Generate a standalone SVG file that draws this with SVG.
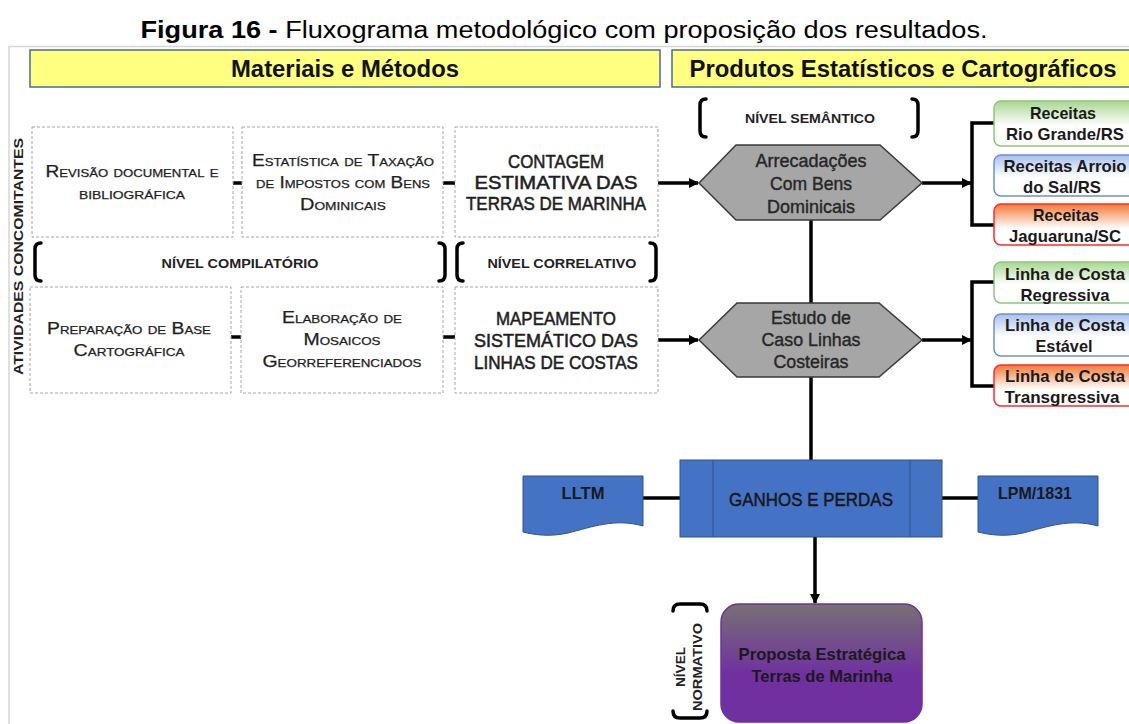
<svg xmlns="http://www.w3.org/2000/svg" width="1129" height="724" viewBox="0 0 1129 724">
<style>
  text { font-family: "Liberation Sans", Arial, sans-serif; text-anchor: middle; fill: #1a1a1a; }
  .title { font-size: 23px; fill: #000; }
  .hdr { font-size: 23px; font-weight: bold; fill: #111; }
  .sc { font-size: 16px; font-variant: small-caps; fill: #1e1e1e; stroke: #1e1e1e; stroke-width: 0.25; }
  .caps { font-size: 19px; fill: #1e1e1e; stroke: #1e1e1e; stroke-width: 0.55; }
  .lvl { font-size: 13.5px; font-weight: bold; fill: #222; }
  .hex { font-size: 18.5px; fill: #262626; stroke: #262626; stroke-width: 0.4; }
  .rb { font-size: 17px; font-weight: bold; fill: #1a1a1a; }
  .dash { fill: #fff; stroke: #a6a6a6; stroke-width: 1; stroke-dasharray: 3 2; }
  .link { stroke: #000; stroke-width: 3.5; fill: none; }
  .brk { stroke: #000; stroke-width: 3.5; fill: none; stroke-linecap: round; stroke-linejoin: round; }
  .hexs { fill: #a6a6a6; stroke: #3a3a3a; stroke-width: 1.5; }
  .yel { fill: #ffff80; stroke: #4a6a9c; stroke-width: 1.5; }
  .blue { fill: #4472c4; stroke: #2f528f; stroke-width: 1; }
</style>
<defs>
  <marker id="ah" markerWidth="10" markerHeight="10" refX="9" refY="5" orient="auto" markerUnits="userSpaceOnUse">
    <path d="M0,0 L10,5 L0,10 Z" fill="#000"/>
  </marker>
  <linearGradient id="gG" x1="0" y1="0" x2="0" y2="1">
    <stop offset="0" stop-color="#a9d790"/><stop offset="0.55" stop-color="#ffffff"/><stop offset="1" stop-color="#ffffff"/>
  </linearGradient>
  <linearGradient id="gB" x1="0" y1="0" x2="0" y2="1">
    <stop offset="0" stop-color="#a9c0ec"/><stop offset="0.55" stop-color="#ffffff"/><stop offset="1" stop-color="#ffffff"/>
  </linearGradient>
  <linearGradient id="gR" x1="0" y1="0" x2="0" y2="1">
    <stop offset="0" stop-color="#f07a36"/><stop offset="0.6" stop-color="#ffffff"/><stop offset="1" stop-color="#ffffff"/>
  </linearGradient>
  <linearGradient id="gP" x1="0" y1="0" x2="0" y2="1">
    <stop offset="0" stop-color="#777173"/><stop offset="0.6" stop-color="#7030a0"/><stop offset="1" stop-color="#7030a0"/>
  </linearGradient>
</defs>

<rect width="1129" height="724" fill="#fff"/>
<text class="title" x="564" y="38" textLength="847" lengthAdjust="spacingAndGlyphs"><tspan font-weight="bold">Figura 16 - </tspan>Fluxograma metodológico com proposição dos resultados.</text>
<path d="M9,724 V46.5 H1129" fill="none" stroke="#d6d6d6" stroke-width="1.5"/>

<g id="header-materiais">
  <rect class="yel" x="30" y="50" width="630" height="37"/>
  <text class="hdr" x="345" y="77" textLength="228" lengthAdjust="spacingAndGlyphs">Materiais e Métodos</text>
</g>
<g id="header-produtos">
  <rect class="yel" x="672" y="50" width="470" height="37"/>
  <text class="hdr" x="903" y="77" textLength="427" lengthAdjust="spacingAndGlyphs">Produtos Estatísticos e Cartográficos</text>
</g>

<g id="label-atividades">
  <text class="lvl" transform="translate(23,256.5) rotate(-90)" x="0" y="0" textLength="237" lengthAdjust="spacingAndGlyphs">ATIVIDADES CONCOMITANTES</text>
</g>

<g id="connectors">
  <line class="link" x1="233" y1="183" x2="242" y2="183"/>
  <line class="link" x1="443" y1="183" x2="455" y2="183"/>
  <line class="link" x1="231" y1="337" x2="241" y2="337"/>
  <line class="link" x1="443" y1="337" x2="455" y2="337"/>
  <line class="link" x1="658" y1="183" x2="698" y2="183" marker-end="url(#ah)"/>
  <line class="link" x1="658" y1="340" x2="698" y2="340" marker-end="url(#ah)"/>
  <line class="link" x1="922" y1="183" x2="971" y2="183" marker-end="url(#ah)"/>
  <line class="link" x1="922" y1="340" x2="971" y2="340" marker-end="url(#ah)"/>
  <path class="link" d="M994,123 H972 V225 H994"/>
  <path class="link" d="M994,282 H972 V386 H994"/>
  <line class="link" x1="811" y1="220" x2="811" y2="303"/>
  <line class="link" x1="811" y1="377" x2="811" y2="460"/>
  <line class="link" x1="643" y1="498" x2="680" y2="498"/>
  <line class="link" x1="942" y1="498" x2="978" y2="498"/>
  <line class="link" x1="815" y1="537" x2="815" y2="603" marker-end="url(#ah)"/>
</g>

<g id="box-revisao">
  <rect class="dash" x="32" y="127" width="201" height="110"/>
  <text class="sc" x="132" y="177" textLength="173" lengthAdjust="spacingAndGlyphs">Revisão documental e</text>
  <text class="sc" x="132" y="199" textLength="106" lengthAdjust="spacingAndGlyphs">bibliográfica</text>
</g>
<g id="box-estatistica">
  <rect class="dash" x="242" y="127" width="201" height="110"/>
  <text class="sc" x="343" y="166" textLength="182" lengthAdjust="spacingAndGlyphs">Estatística de Taxação</text>
  <text class="sc" x="343" y="188" textLength="174" lengthAdjust="spacingAndGlyphs">de Impostos com Bens</text>
  <text class="sc" x="343" y="210" textLength="86" lengthAdjust="spacingAndGlyphs">Dominicais</text>
</g>
<g id="box-contagem">
  <rect class="dash" x="455" y="127" width="203" height="110"/>
  <text class="caps" x="556" y="168" textLength="96" lengthAdjust="spacingAndGlyphs">CONTAGEM</text>
  <text class="caps" x="556" y="189" textLength="163" lengthAdjust="spacingAndGlyphs">ESTIMATIVA DAS</text>
  <text class="caps" x="556" y="210" textLength="180" lengthAdjust="spacingAndGlyphs">TERRAS DE MARINHA</text>
</g>

<g id="nivel-compilatorio">
  <path class="brk" d="M41,243 Q35,243 35,249 V275 Q35,281 41,281"/>
  <path class="brk" d="M439,243 Q445,243 445,249 V275 Q445,281 439,281"/>
  <text class="lvl" x="240" y="268" textLength="157" lengthAdjust="spacingAndGlyphs">NÍVEL COMPILATÓRIO</text>
</g>
<g id="nivel-correlativo">
  <path class="brk" d="M463,243 Q457,243 457,249 V275 Q457,281 463,281"/>
  <path class="brk" d="M650,243 Q656,243 656,249 V275 Q656,281 650,281"/>
  <text class="lvl" x="562" y="268" textLength="149" lengthAdjust="spacingAndGlyphs">NÍVEL CORRELATIVO</text>
</g>
<g id="nivel-semantico">
  <path class="brk" d="M706,99 Q700,99 700,105 V131 Q700,137 706,137"/>
  <path class="brk" d="M912,99 Q918,99 918,105 V131 Q918,137 912,137"/>
  <text class="lvl" x="810" y="123" textLength="130" lengthAdjust="spacingAndGlyphs">NÍVEL SEMÂNTICO</text>
</g>

<g id="box-preparacao">
  <rect class="dash" x="30" y="287" width="201" height="106"/>
  <text class="sc" x="129" y="334" textLength="164" lengthAdjust="spacingAndGlyphs">Preparação de Base</text>
  <text class="sc" x="129" y="356" textLength="111" lengthAdjust="spacingAndGlyphs">Cartográfica</text>
</g>
<g id="box-elaboracao">
  <rect class="dash" x="241" y="287" width="202" height="106"/>
  <text class="sc" x="342" y="323" textLength="120" lengthAdjust="spacingAndGlyphs">Elaboração de</text>
  <text class="sc" x="342" y="345" textLength="77" lengthAdjust="spacingAndGlyphs">Mosaicos</text>
  <text class="sc" x="342" y="367" textLength="159" lengthAdjust="spacingAndGlyphs">Georreferenciados</text>
</g>
<g id="box-mapeamento">
  <rect class="dash" x="455" y="287" width="203" height="106"/>
  <text class="caps" x="556" y="325" textLength="120" lengthAdjust="spacingAndGlyphs">MAPEAMENTO</text>
  <text class="caps" x="556" y="347" textLength="164" lengthAdjust="spacingAndGlyphs">SISTEMÁTICO DAS</text>
  <text class="caps" x="556" y="369" textLength="164" lengthAdjust="spacingAndGlyphs">LINHAS DE COSTAS</text>
</g>

<g id="hex-arrecadacoes">
  <polygon class="hexs" points="699,183 736,145 880,145 922,183 880,220 736,220"/>
  <text class="hex" x="811" y="167" textLength="111" lengthAdjust="spacingAndGlyphs">Arrecadações</text>
  <text class="hex" x="811" y="190" textLength="82" lengthAdjust="spacingAndGlyphs">Com Bens</text>
  <text class="hex" x="811" y="213" textLength="88" lengthAdjust="spacingAndGlyphs">Dominicais</text>
</g>
<g id="hex-estudo">
  <polygon class="hexs" points="699,340 737,303 879,303 922,340 879,377 737,377"/>
  <text class="hex" x="811" y="324" textLength="80" lengthAdjust="spacingAndGlyphs">Estudo de</text>
  <text class="hex" x="811" y="346" textLength="99" lengthAdjust="spacingAndGlyphs">Caso Linhas</text>
  <text class="hex" x="811" y="368" textLength="75" lengthAdjust="spacingAndGlyphs">Costeiras</text>
</g>

<g id="box-rio-grande">
  <rect x="994" y="101" width="150" height="45" rx="7" fill="url(#gG)" stroke="#8cc87a" stroke-width="1.5"/>
  <text class="rb" x="1063" y="119" textLength="66" lengthAdjust="spacingAndGlyphs">Receitas</text>
  <text class="rb" x="1065" y="140" textLength="118" lengthAdjust="spacingAndGlyphs">Rio Grande/RS</text>
</g>
<g id="box-arroio">
  <rect x="994" y="155" width="150" height="41" rx="7" fill="url(#gB)" stroke="#6d8fd6" stroke-width="1.5"/>
  <text class="rb" x="1065" y="172" textLength="123" lengthAdjust="spacingAndGlyphs">Receitas Arroio</text>
  <text class="rb" x="1062" y="193" textLength="78" lengthAdjust="spacingAndGlyphs">do Sal/RS</text>
</g>
<g id="box-jaguaruna">
  <rect x="994" y="204" width="150" height="41" rx="7" fill="url(#gR)" stroke="#ff2a2a" stroke-width="1.5"/>
  <text class="rb" x="1066" y="221" textLength="66" lengthAdjust="spacingAndGlyphs">Receitas</text>
  <text class="rb" x="1065" y="242" textLength="112" lengthAdjust="spacingAndGlyphs">Jaguaruna/SC</text>
</g>
<g id="box-regressiva">
  <rect x="994" y="262" width="150" height="41" rx="7" fill="url(#gG)" stroke="#8cc87a" stroke-width="1.5"/>
  <text class="rb" x="1065" y="280" textLength="120" lengthAdjust="spacingAndGlyphs">Linha de Costa</text>
  <text class="rb" x="1065" y="301" textLength="89" lengthAdjust="spacingAndGlyphs">Regressiva</text>
</g>
<g id="box-estavel">
  <rect x="994" y="314" width="150" height="42" rx="7" fill="url(#gB)" stroke="#6d8fd6" stroke-width="1.5"/>
  <text class="rb" x="1065" y="331" textLength="120" lengthAdjust="spacingAndGlyphs">Linha de Costa</text>
  <text class="rb" x="1064" y="352" textLength="57" lengthAdjust="spacingAndGlyphs">Estável</text>
</g>
<g id="box-transgressiva">
  <rect x="994" y="365" width="150" height="41" rx="7" fill="url(#gR)" stroke="#ff2a2a" stroke-width="1.5"/>
  <text class="rb" x="1065" y="382" textLength="120" lengthAdjust="spacingAndGlyphs">Linha de Costa</text>
  <text class="rb" x="1062" y="403" textLength="115" lengthAdjust="spacingAndGlyphs">Transgressiva</text>
</g>

<g id="doc-lltm">
  <path class="blue" d="M523,476 H643 V526 C615,518 592,527 568,533 C550,537 535,535 523,532 Z"/>
  <text class="rb" x="583" y="499" textLength="43" lengthAdjust="spacingAndGlyphs">LLTM</text>
</g>
<g id="box-ganhos">
  <rect class="blue" x="680" y="460" width="262" height="77"/>
  <line x1="713" y1="460" x2="713" y2="537" stroke="#2f528f" stroke-width="1"/>
  <line x1="910" y1="460" x2="910" y2="537" stroke="#2f528f" stroke-width="1"/>
  <text x="811" y="506" font-size="19" fill="#111" stroke="#111" stroke-width="0.45" textLength="164" lengthAdjust="spacingAndGlyphs">GANHOS E PERDAS</text>
</g>
<g id="doc-lpm">
  <path class="blue" d="M978,476 H1098 V526 C1070,518 1047,527 1023,533 C1005,537 990,535 978,532 Z"/>
  <text class="rb" x="1035" y="499" textLength="74" lengthAdjust="spacingAndGlyphs">LPM/1831</text>
</g>

<g id="nivel-normativo">
  <path class="brk" d="M673,611 Q673,604 680,604 H700 Q707,604 707,611"/>
  <path class="brk" d="M673,711 Q673,718 680,718 H700 Q707,718 707,711"/>
  <text class="lvl" transform="translate(685,667) rotate(-90)" x="0" y="0" textLength="40" lengthAdjust="spacingAndGlyphs">NÍVEL</text>
  <text class="lvl" transform="translate(702,667) rotate(-90)" x="0" y="0" textLength="88" lengthAdjust="spacingAndGlyphs">NORMATIVO</text>
</g>

<g id="box-proposta">
  <rect x="721" y="604" width="201" height="118" rx="18" fill="url(#gP)" stroke="#7030a0" stroke-width="1.5"/>
  <text class="rb" x="822" y="660" textLength="167" lengthAdjust="spacingAndGlyphs">Proposta Estratégica</text>
  <text class="rb" x="822" y="682" textLength="141" lengthAdjust="spacingAndGlyphs">Terras de Marinha</text>
</g>
</svg>
